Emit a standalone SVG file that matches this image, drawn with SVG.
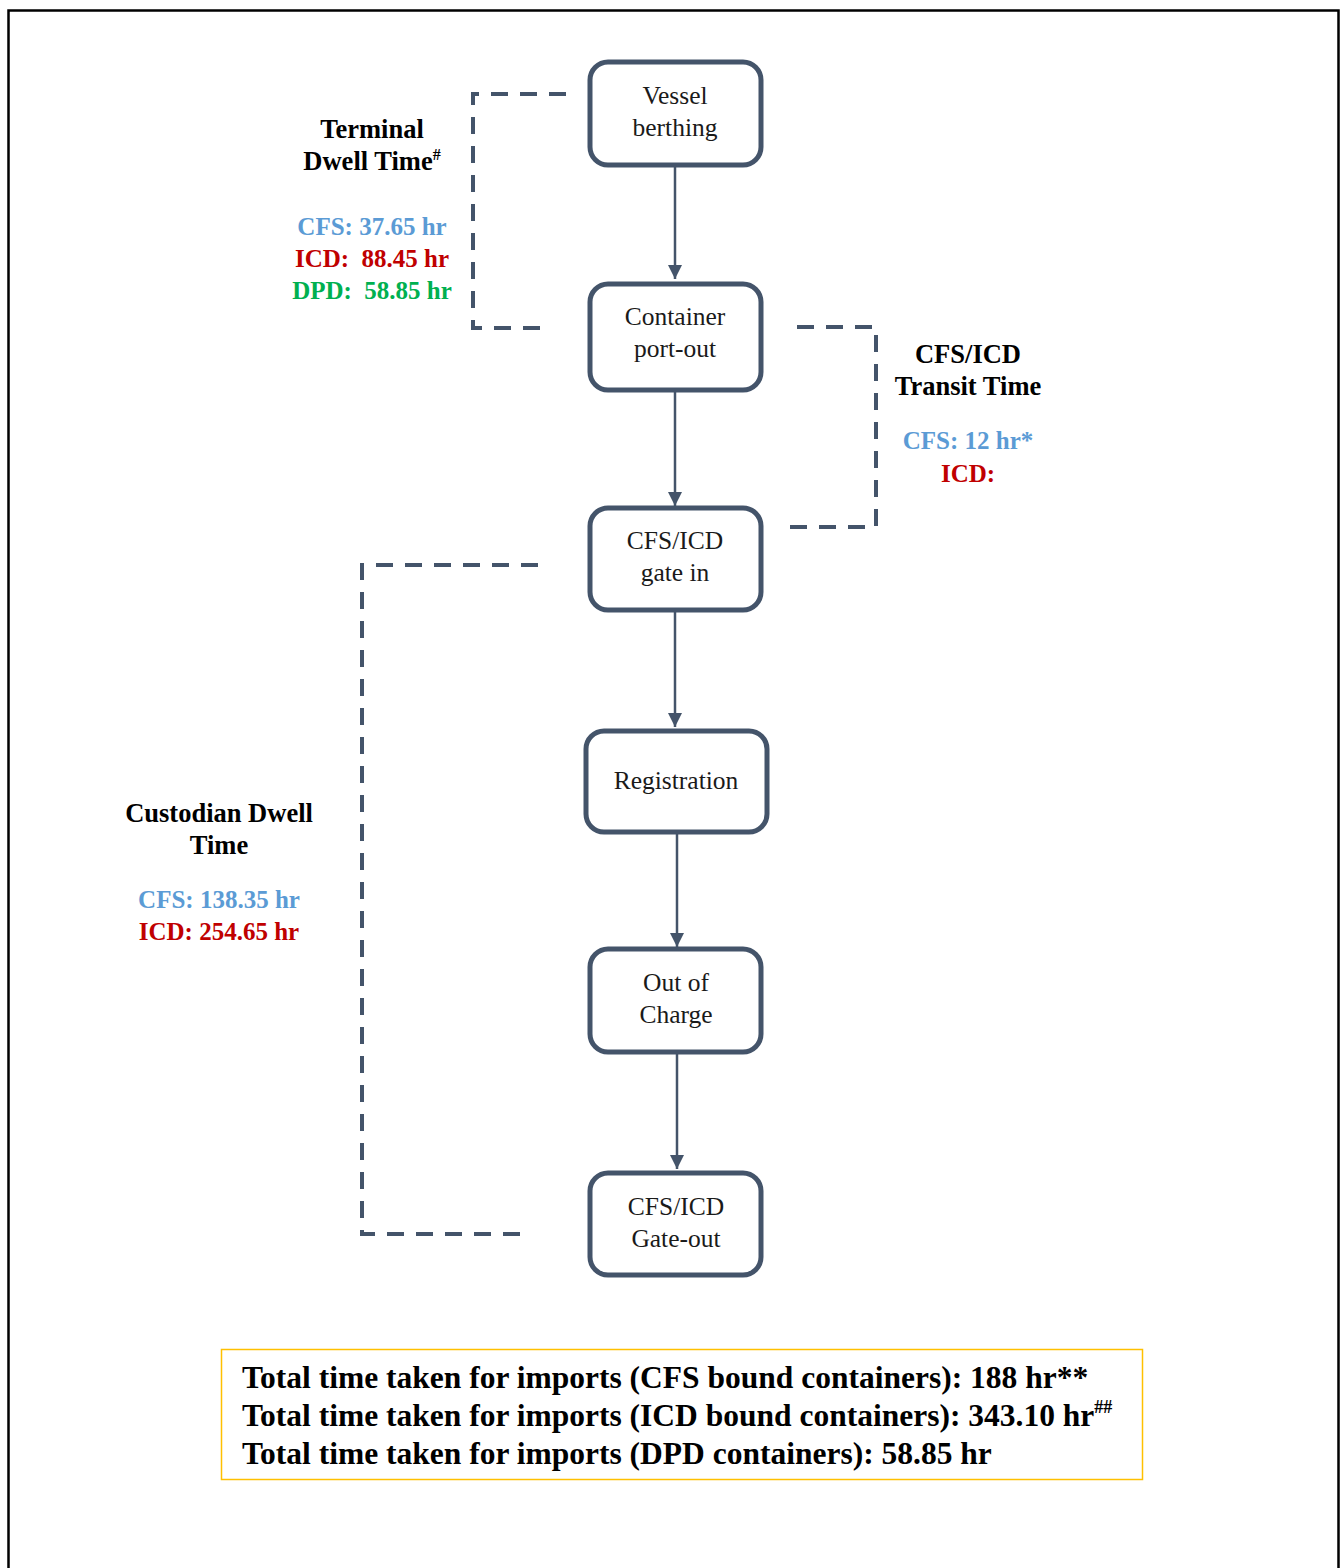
<svg xmlns="http://www.w3.org/2000/svg" width="1342" height="1568" viewBox="0 0 1342 1568">
<style>
.node{fill:#fff;stroke:#44546A;stroke-width:5}
.nl{font-family:"Liberation Serif",serif;font-size:25.5px;fill:#1a1a1a;text-anchor:middle}
.bl{font-family:"Liberation Serif",serif;font-size:26.5px;font-weight:bold;fill:#000;text-anchor:middle}
.cv{font-size:25px}
.cfs{fill:#5B9BD5}.icd{fill:#C00000}.dpd{fill:#00B050}
.dash{fill:none;stroke:#44546A;stroke-width:4;stroke-dasharray:17 12}
.arr{stroke:#44546A;stroke-width:2.5;fill:none;marker-end:url(#ah)}
.tot{font-family:"Liberation Serif",serif;font-size:31.5px;font-weight:bold;fill:#000}
</style>
<defs>
<marker id="ah" markerWidth="16" markerHeight="16" refX="14" refY="8" orient="auto" markerUnits="userSpaceOnUse">
<path d="M0,1 L14,8 L0,15 Z" fill="#44546A"/>
</marker>
</defs>
<rect width="1342" height="1568" fill="#fff"/>
<path d="M8.5,1568 V10.5 H1338.5 V1568" fill="none" stroke="#000" stroke-width="2.5"/>

<g id="connectors">
<line class="arr" x1="675" y1="166" x2="675" y2="279"/>
<line class="arr" x1="675" y1="391" x2="675" y2="506"/>
<line class="arr" x1="675" y1="611" x2="675" y2="727"/>
<line class="arr" x1="677" y1="833" x2="677" y2="947"/>
<line class="arr" x1="677" y1="1053" x2="677" y2="1169"/>
<path class="dash" d="M566,94 H473 V328 H552"/>
<path class="dash" d="M797,327 H876 V527 H783"/>
<path class="dash" d="M538,565 H362 V1234 H528"/>
</g>

<g id="n1"><rect class="node" x="590" y="62" width="171" height="103" rx="18"/>
<text class="nl" x="675" y="104">Vessel</text><text class="nl" x="675" y="136">berthing</text></g>
<g id="n2"><rect class="node" x="590" y="284" width="171" height="106" rx="18"/>
<text class="nl" x="675" y="325">Container</text><text class="nl" x="675" y="357">port-out</text></g>
<g id="n3"><rect class="node" x="590" y="508" width="171" height="102" rx="18"/>
<text class="nl" x="675" y="549">CFS/ICD</text><text class="nl" x="675" y="581">gate in</text></g>
<g id="n4"><rect class="node" x="586" y="731" width="181" height="101" rx="18"/>
<text class="nl" x="676" y="789">Registration</text></g>
<g id="n5"><rect class="node" x="590" y="949" width="171" height="103" rx="18"/>
<text class="nl" x="676" y="991">Out of</text><text class="nl" x="676" y="1023">Charge</text></g>
<g id="n6"><rect class="node" x="590" y="1173" width="171" height="102" rx="18"/>
<text class="nl" x="676" y="1215">CFS/ICD</text><text class="nl" x="676" y="1247">Gate-out</text></g>

<g id="terminal">
<text class="bl" x="372" y="138">Terminal</text>
<text class="bl" x="372" y="170">Dwell Time<tspan font-size="16" dy="-10">#</tspan></text>
<text class="bl cv cfs" x="372" y="235">CFS: 37.65 hr</text>
<text class="bl cv icd" x="372" y="267" xml:space="preserve">ICD:  88.45 hr</text>
<text class="bl cv dpd" x="372" y="299" xml:space="preserve">DPD:  58.85 hr</text>
</g>
<g id="transit">
<text class="bl" x="968" y="363">CFS/ICD</text>
<text class="bl" x="968" y="395">Transit Time</text>
<text class="bl cv cfs" x="968" y="449">CFS: 12 hr*</text>
<text class="bl cv icd" x="968" y="482">ICD:</text>
</g>
<g id="custodian">
<text class="bl" x="219" y="822">Custodian Dwell</text>
<text class="bl" x="219" y="854">Time</text>
<text class="bl cv cfs" x="219" y="908">CFS: 138.35 hr</text>
<text class="bl cv icd" x="219" y="940">ICD: 254.65 hr</text>
</g>

<g id="totals">
<rect x="221.5" y="1349.5" width="921" height="130" fill="#fff" stroke="#FFC000" stroke-width="1.5"/>
<text class="tot" x="242" y="1388">Total time taken for imports (CFS bound containers): 188 hr**</text>
<text class="tot" x="242" y="1426">Total time taken for imports (ICD bound containers): 343.10 hr<tspan font-size="18" dy="-13">##</tspan></text>
<text class="tot" x="242" y="1464">Total time taken for imports (DPD containers): 58.85 hr</text>
</g>
</svg>
